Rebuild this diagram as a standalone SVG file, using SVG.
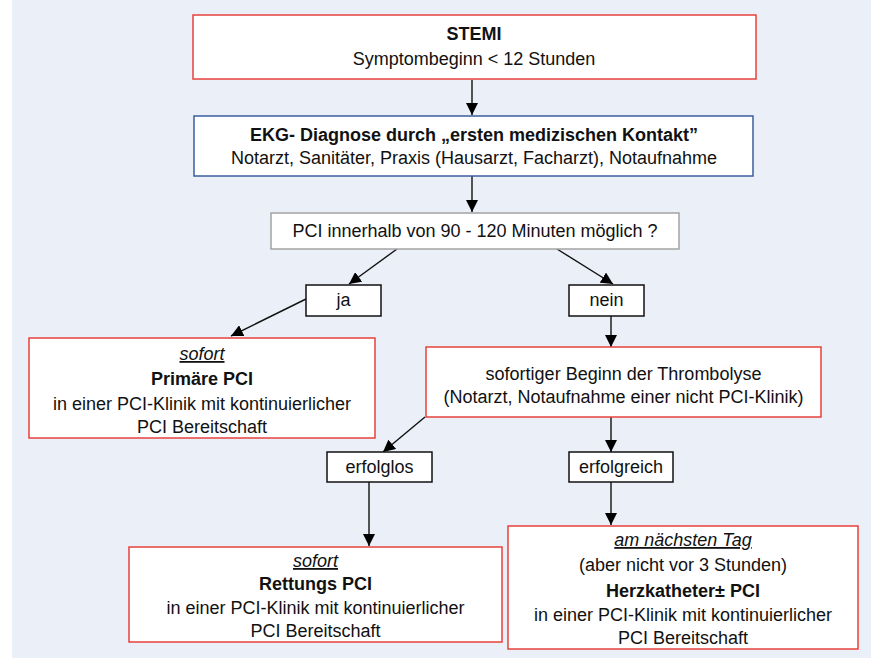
<svg xmlns="http://www.w3.org/2000/svg" width="871" height="659" viewBox="0 0 871 659">
<defs>
<marker id="ah" markerUnits="userSpaceOnUse" markerWidth="12" markerHeight="12" viewBox="0 0 12 12" refX="12" refY="6" orient="auto">
<path d="M0,0 L12,6 L0,12 Z" fill="#000"/>
</marker>
</defs>
<style>
text{font-family:"Liberation Sans",Arial,sans-serif;font-size:18px;fill:#111;text-anchor:middle}
.b{font-weight:bold}
.i{font-style:italic;text-decoration:underline}
.red{fill:#fff;stroke:#E8403B;stroke-width:1.5}
.blue{fill:#fff;stroke:#3A5E9E;stroke-width:1.5}
.gray{fill:#fff;stroke:#A3A3A3;stroke-width:1.5}
.blk{fill:#fff;stroke:#111;stroke-width:1.5}
.c{stroke:#111;stroke-width:1.4;fill:none;marker-end:url(#ah)}
</style>
<rect x="12" y="0" width="859" height="658" fill="#EBF0F8"/>
<g id="connectors">
<line class="c" x1="472" y1="80" x2="472" y2="115"/>
<line class="c" x1="472" y1="176" x2="472" y2="212"/>
<line class="c" x1="397" y1="249" x2="349" y2="284"/>
<line class="c" x1="557" y1="249" x2="613" y2="284"/>
<line class="c" x1="306" y1="299" x2="231" y2="336"/>
<line class="c" x1="611" y1="316" x2="611" y2="347"/>
<line class="c" x1="425" y1="417" x2="383" y2="452"/>
<line class="c" x1="611" y1="417" x2="611" y2="452"/>
<line class="c" x1="369" y1="482" x2="369" y2="546"/>
<line class="c" x1="611" y1="482" x2="611" y2="525"/>
</g>
<g id="stemi">
<rect class="red" x="193" y="15" width="563" height="64"/>
<text class="b" x="474" y="40">STEMI</text>
<text x="474" y="65">Symptombeginn &lt; 12 Stunden</text>
</g>
<g id="ekg">
<rect class="blue" x="194" y="116" width="559" height="60"/>
<text class="b" x="474" y="141">EKG- Diagnose durch „ersten medizischen Kontakt”</text>
<text x="474" y="164">Notarzt, Sanitäter, Praxis (Hausarzt, Facharzt), Notaufnahme</text>
</g>
<g id="frage">
<rect class="gray" x="271" y="213" width="408" height="36"/>
<text x="475" y="237">PCI innerhalb von 90 - 120 Minuten möglich ?</text>
</g>
<g id="ja">
<rect class="blk" x="306" y="285" width="75" height="31"/>
<text x="343.5" y="306">ja</text>
</g>
<g id="nein">
<rect class="blk" x="569" y="285" width="75" height="31"/>
<text x="606.5" y="306">nein</text>
</g>
<g id="primaer">
<rect class="red" x="29" y="338" width="346" height="100"/>
<text class="i" x="202" y="360">sofort</text>
<text class="b" x="202" y="385">Primäre PCI</text>
<text x="202" y="410">in einer PCI-Klinik mit kontinuierlicher</text>
<text x="202" y="433">PCI Bereitschaft</text>
</g>
<g id="thrombolyse">
<rect class="red" x="426" y="347" width="395" height="70"/>
<text x="623.5" y="380">sofortiger Beginn der Thrombolyse</text>
<text x="623.5" y="403">(Notarzt, Notaufnahme einer nicht PCI-Klinik)</text>
</g>
<g id="erfolglos">
<rect class="blk" x="327" y="452" width="105" height="30"/>
<text x="379.5" y="473">erfolglos</text>
</g>
<g id="erfolgreich">
<rect class="blk" x="569" y="452" width="104" height="30"/>
<text x="621" y="473">erfolgreich</text>
</g>
<g id="rettung">
<rect class="red" x="129" y="547" width="373" height="95"/>
<text class="i" x="315.5" y="567">sofort</text>
<text class="b" x="315.5" y="590">Rettungs PCI</text>
<text x="315.5" y="614">in einer PCI-Klinik mit kontinuierlicher</text>
<text x="315.5" y="637">PCI Bereitschaft</text>
</g>
<g id="naechster-tag">
<rect class="red" x="508" y="526" width="350" height="123"/>
<text class="i" x="683" y="546">am nächsten Tag</text>
<text x="683" y="571">(aber nicht vor 3 Stunden)</text>
<text class="b" x="683" y="597">Herzkatheter± PCI</text>
<text x="683" y="621">in einer PCI-Klinik mit kontinuierlicher</text>
<text x="683" y="644">PCI Bereitschaft</text>
</g>
</svg>
